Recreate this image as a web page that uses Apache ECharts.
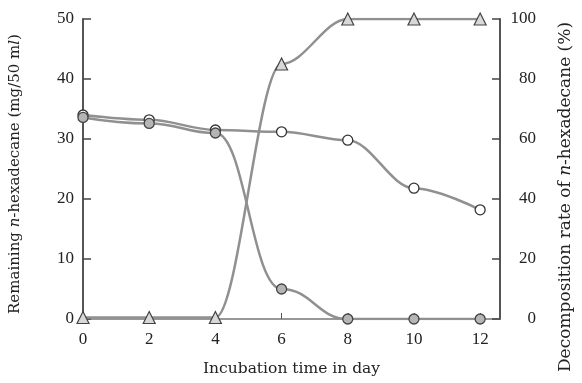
<!DOCTYPE html>
<html><head><meta charset="utf-8">
<script src="https://cdn.jsdelivr.net/npm/echarts@6/dist/echarts.min.js"></script>
<style>html,body{margin:0;padding:0;background:#fff}#c{width:582px;height:383px}</style>
</head><body><div id="c"></div>
<script>
var days = [0, 2, 4, 6, 8, 10, 12];
var remainingControl = [34.0, 33.2, 31.5, 31.2, 29.8, 21.8, 18.2];
var remainingCulture = [33.6, 32.6, 31.0, 5.0, 0, 0, 0];
var decompositionRate = [0.5, 0.5, 0.5, 85, 100, 100, 100];
var leftTicks = [0, 10, 20, 30, 40, 50];
var rightTicks = [0, 20, 40, 60, 80, 100];

function pairs(xs, ys) { return xs.map(function (x, i) { return [x, ys[i]]; }); }

var font = 'Liberation Serif';
var nameFont = 'DejaVu Serif';
var lineGray = '#909090';
var chart = echarts.init(document.getElementById('c'));
chart.setOption({
  animation: false,
  backgroundColor: '#fff',
  grid: { left: 82, right: 75, top: 19, bottom: 64 },
  xAxis: {
    type: 'value', min: 0, max: 12.6, interval: 2,
    name: 'Incubation time in day', nameLocation: 'middle', nameGap: 42,
    nameTextStyle: { fontFamily: nameFont, fontSize: 15.5, color: '#222' },
    axisLine: { show: true, lineStyle: { color: '#777', width: 1.5 } },
    axisTick: { show: true, inside: true, length: 6, lineStyle: { color: '#555' } },
    axisLabel: { fontFamily: font, fontSize: 17, color: '#222', margin: 12, showMaxLabel: false,
      formatter: function (v) { return days.indexOf(v) >= 0 ? String(v) : ''; } },
    splitLine: { show: false }
  },
  yAxis: [{
    type: 'value', min: leftTicks[0], max: leftTicks[leftTicks.length - 1], interval: 10, position: 'left',
    name: '{r|Remaining }{i|n}{r|-hexadecane (mg/50 m}{i|l}{r|)}', nameLocation: 'middle', nameGap: 60,
    nameTextStyle: { padding: [0, 10, 0, 0], rich: {
      r: { fontFamily: nameFont, fontSize: 15, color: '#222' },
      i: { fontFamily: nameFont, fontSize: 15, color: '#222', fontStyle: 'italic' } } },
    axisLine: { show: true, lineStyle: { color: '#555', width: 2 } },
    axisTick: { show: true, inside: true, length: 8, lineStyle: { color: '#444', width: 1.5 } },
    axisLabel: { fontFamily: font, fontSize: 17, color: '#222', margin: 9 },
    splitLine: { show: false }
  }, {
    type: 'value', min: rightTicks[0], max: rightTicks[rightTicks.length - 1], interval: 20, position: 'right',
    name: '{r|Decomposition rate of }{i|n}{r|-hexadecane (%)}', nameLocation: 'middle', nameGap: 57,
    nameTextStyle: { padding: [0, 56, 0, 0], rich: {
      r: { fontFamily: nameFont, fontSize: 17, color: '#222' },
      i: { fontFamily: nameFont, fontSize: 17, color: '#222', fontStyle: 'italic' } } },
    axisLine: { show: true, lineStyle: { color: '#555', width: 2 } },
    axisTick: { show: true, inside: true, length: 8, lineStyle: { color: '#444', width: 1.5 } },
    axisLabel: { fontFamily: font, fontSize: 17, color: '#222', margin: 36, align: 'right' },
    splitLine: { show: false }
  }],
  series: [{
    type: 'line', name: 'control', data: pairs(days, remainingControl), yAxisIndex: 0,
    smooth: 0.35, smoothMonotone: 'x',
    symbol: 'circle', symbolSize: 10,
    lineStyle: { color: lineGray, width: 2.5 },
    itemStyle: { color: '#fff', borderColor: '#333', borderWidth: 1.3 }, z: 3
  }, {
    type: 'line', name: 'culture', data: pairs(days, remainingCulture), yAxisIndex: 0,
    smooth: 0.45, smoothMonotone: 'x',
    symbol: 'circle', symbolSize: 10,
    lineStyle: { color: lineGray, width: 2.5 },
    itemStyle: { color: '#b5b5b5', borderColor: '#444', borderWidth: 1.3 }, z: 4
  }, {
    type: 'line', name: 'rate', data: pairs(days, decompositionRate), yAxisIndex: 1,
    smooth: 0.35, smoothMonotone: 'x',
    symbol: 'triangle', symbolSize: 12,
    lineStyle: { color: lineGray, width: 2.5 },
    itemStyle: { color: '#d8d8d8', borderColor: '#444', borderWidth: 1.2 }, z: 5
  }]
});
</script></body></html>
